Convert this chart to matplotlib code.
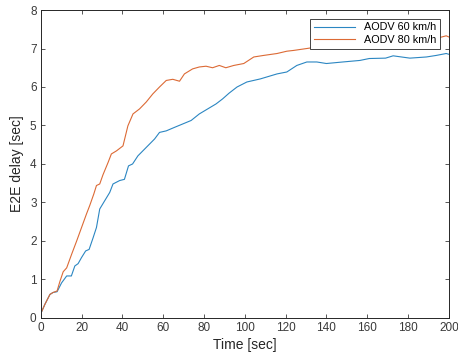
import matplotlib
matplotlib.use('Agg')
import matplotlib.pyplot as plt

plt.rcParams['font.family'] = ['Liberation Sans', 'DejaVu Sans']

# AODV 60 km/h
t60 = [0.5, 2, 4.5, 6, 8, 10.2, 12.7, 15, 16.7, 18.3, 20, 22, 23.7, 25.7, 27.3,
       28.9, 31.4, 33.8, 35.4, 38.7, 41, 43, 45, 47.6, 51.7, 55.8, 58.2, 61.5,
       65.5, 69.6, 73.7, 77.7, 81.8, 85.9, 89.1, 92.3, 96.2, 101, 107.6, 115.8,
       120.6, 125.5, 130.4, 135.3, 140, 148, 156.4, 161, 169, 172.7, 180.9, 189,
       193.8, 198.7, 200]
d60 = [0.17, 0.35, 0.61, 0.66, 0.68, 0.91, 1.09, 1.09, 1.35, 1.41, 1.57, 1.74,
       1.78, 2.09, 2.35, 2.83, 3.05, 3.26, 3.48, 3.57, 3.6, 3.95, 4.0, 4.21,
       4.43, 4.65, 4.82, 4.86, 4.95, 5.04, 5.13, 5.30, 5.43, 5.56, 5.69, 5.84,
       6.0, 6.13, 6.21, 6.34, 6.39, 6.56, 6.65, 6.65, 6.61, 6.65, 6.69, 6.74,
       6.75, 6.81, 6.75, 6.78, 6.82, 6.87, 6.85]

# AODV 80 km/h
t80 = [0.5, 2, 4.5, 6, 8, 9.4, 11, 12.7, 15.1, 17.6, 20, 22.4, 24, 26, 27.3,
       28.9, 30.5, 33, 34.6, 37.1, 40.3, 42.7, 45.2, 48.4, 51.7, 54.9, 58.2,
       61.5, 64.7, 68, 70.4, 74.4, 77.7, 81, 84.2, 87.5, 90.7, 94.6, 99.5, 104.4,
       109.2, 115.8, 120.6, 123.9, 130.4, 135.3, 145, 155, 165, 175, 185, 194.4,
       198.7, 200]
d80 = [0.17, 0.35, 0.61, 0.66, 0.7, 0.95, 1.2, 1.3, 1.65, 2.0, 2.35, 2.7, 2.92,
       3.22, 3.44, 3.48, 3.72, 4.04, 4.26, 4.34, 4.47, 4.99, 5.30, 5.43, 5.61,
       5.82, 6.0, 6.17, 6.2, 6.15, 6.34, 6.47, 6.52, 6.54, 6.5, 6.56, 6.5, 6.56,
       6.61, 6.78, 6.82, 6.87, 6.93, 6.95, 7.0, 7.04, 7.06, 7.1, 7.15, 7.18,
       7.22, 7.27, 7.33, 7.3]

fig = plt.figure(figsize=(4.58, 3.58), dpi=100)
ax = fig.add_axes([0.089, 0.112, 0.891, 0.860])

ax.plot(t60, d60, color='#2B86C2', lw=0.8, label='AODV 60 km/h')
ax.plot(t80, d80, color='#DC6A35', lw=0.8, label='AODV 80 km/h')

ax.set_xlim(0, 200)
ax.set_ylim(0, 8)
ax.set_xticks(range(0, 201, 20))
ax.set_yticks(range(0, 9))
ax.tick_params(direction='in', top=True, right=True, labelsize=8.5,
               colors='#3a3a3a', length=3, width=0.6, pad=3)
for s in ax.spines.values():
    s.set_color('#262626')
    s.set_linewidth(0.7)

ax.set_xlabel('Time [sec]', fontsize=10, color='#262626', labelpad=3)
ax.set_ylabel('E2E delay [sec]', fontsize=10, color='#262626', labelpad=4)

leg = ax.legend(loc='upper right', fontsize=7.8, fancybox=False,
                framealpha=1, edgecolor='#262626', borderpad=0.35,
                handlelength=3.8, labelspacing=0.25, borderaxespad=0.8)
leg.get_frame().set_linewidth(0.6)

fig.savefig('out.png', dpi=100)
